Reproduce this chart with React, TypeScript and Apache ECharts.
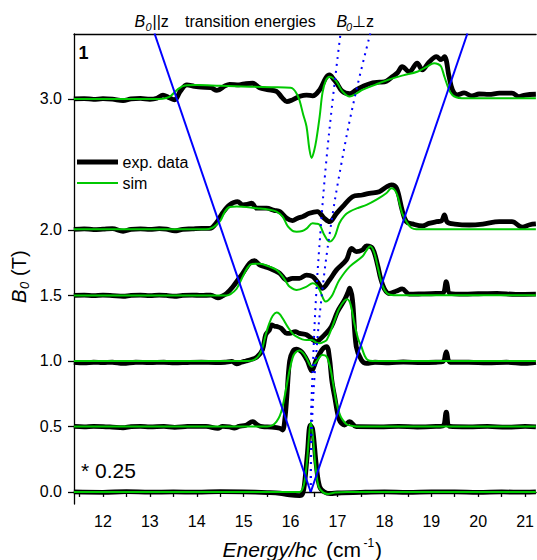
import React, { useEffect, useRef } from 'react';
import * as echarts from 'echarts';

const xTickLabels = [12, 13, 14, 15, 16, 17, 18, 19, 20, 21];
const xTickMarks = [11.5, 12, 12.5, 13, 13.5, 14, 14.5, 15, 15.5, 16, 16.5, 17, 17.5, 18, 18.5, 19, 19.5, 20, 20.5, 21];
const yTickLabels = [0, 0.5, 1, 1.5, 2, 3];

// experimental spectra (offset by field value), [energy, B0]
const exp00 = [[11.38,0.0],[12.0,-0.003],[12.5,0.002],[13.0,-0.002],[13.5,0.0],[14.0,-0.002],[14.5,0.002],[15.0,0.0],[15.5,-0.005],[15.77,-0.01],[15.98,-0.023],[16.19,-0.028],[16.26,-0.01],[16.3,0.07],[16.36,0.3],[16.42,0.51],[16.47,0.48],[16.55,0.2],[16.62,0.04],[16.72,0.0],[16.85,-0.012],[17.0,-0.008],[17.5,-0.003],[18.0,0.0],[18.5,-0.004],[19.0,0.0],[19.5,0.0],[20.0,-0.003],[20.5,0.0],[21.0,-0.002],[21.23,0.0]];
const exp05 = [[11.38,0.5],[11.6,0.497],[11.8,0.501],[12.0,0.499],[12.2,0.495],[12.43,0.49],[12.6,0.499],[12.8,0.501],[13.0,0.497],[13.3,0.5],[13.53,0.493],[13.8,0.5],[14.0,0.501],[14.2,0.5],[14.45,0.486],[14.55,0.5],[14.7,0.497],[14.8,0.488],[14.9,0.5],[15.05,0.51],[15.19,0.537],[15.3,0.51],[15.4,0.498],[15.6,0.495],[15.77,0.486],[15.83,0.473],[15.88,0.56],[15.92,0.727],[15.98,1.0],[16.05,1.075],[16.13,1.09],[16.2,1.08],[16.26,1.06],[16.36,1.0],[16.45,0.924],[16.55,1.008],[16.68,1.09],[16.77,1.11],[16.83,1.02],[16.88,0.85],[16.94,0.727],[17.04,0.55],[17.15,0.511],[17.26,0.537],[17.4,0.498],[17.9,0.497],[18.3,0.5],[18.7,0.496],[19.1,0.5],[19.25,0.505],[19.32,0.61],[19.4,0.5],[19.8,0.497],[20.2,0.5],[20.6,0.495],[21.0,0.5],[21.23,0.497]];
const exp10 = [[11.38,0.99],[11.6,0.985],[11.8,0.99],[12.0,0.987],[12.2,0.99],[12.43,0.982],[12.7,0.99],[13.0,0.987],[13.3,0.99],[13.53,0.985],[13.8,0.988],[14.1,0.99],[14.4,0.988],[14.6,0.99],[14.75,0.997],[14.85,0.978],[14.95,0.99],[15.05,1.0],[15.13,1.008],[15.28,1.03],[15.4,1.084],[15.47,1.2],[15.55,1.237],[15.6,1.275],[15.66,1.265],[15.72,1.262],[15.8,1.25],[15.92,1.211],[15.98,1.211],[16.1,1.224],[16.19,1.211],[16.34,1.2],[16.45,1.17],[16.55,1.147],[16.64,1.17],[16.72,1.198],[16.87,1.262],[17.0,1.376],[17.15,1.466],[17.22,1.52],[17.26,1.555],[17.32,1.466],[17.4,1.109],[17.51,1.008],[17.62,0.982],[17.8,0.99],[18.1,0.985],[18.4,0.992],[18.8,0.987],[19.1,0.99],[19.25,0.995],[19.32,1.07],[19.4,0.99],[19.8,0.99],[20.2,0.985],[20.6,0.99],[21.0,0.982],[21.23,0.99]];
const exp15 = [[11.38,1.5],[11.6,1.503],[11.8,1.498],[12.0,1.502],[12.2,1.499],[12.43,1.494],[12.6,1.501],[12.8,1.503],[13.0,1.499],[13.2,1.503],[13.35,1.5],[13.53,1.494],[13.7,1.501],[13.9,1.503],[14.1,1.5],[14.3,1.503],[14.45,1.481],[14.55,1.497],[14.64,1.517],[14.77,1.567],[14.88,1.62],[14.98,1.669],[15.13,1.746],[15.23,1.766],[15.34,1.733],[15.45,1.72],[15.55,1.708],[15.66,1.69],[15.77,1.669],[15.92,1.618],[16.04,1.631],[16.19,1.631],[16.34,1.656],[16.47,1.644],[16.58,1.6],[16.68,1.555],[16.83,1.618],[16.98,1.695],[17.19,1.771],[17.3,1.86],[17.4,1.834],[17.53,1.847],[17.62,1.878],[17.745,1.86],[17.85,1.74],[17.92,1.63],[18.0,1.55],[18.1,1.515],[18.26,1.534],[18.38,1.55],[18.53,1.51],[18.8,1.512],[19.1,1.515],[19.25,1.518],[19.32,1.605],[19.4,1.515],[19.7,1.51],[20.0,1.513],[20.4,1.516],[20.8,1.508],[21.23,1.51]];
const exp20 = [[11.38,2.005],[11.6,2.009],[11.8,2.003],[12.0,2.006],[12.2,2.01],[12.43,1.99],[12.6,2.005],[12.8,2.008],[13.0,2.004],[13.2,2.01],[13.35,2.006],[13.53,1.993],[13.7,2.005],[13.9,2.008],[14.1,2.012],[14.28,2.012],[14.43,2.06],[14.55,2.13],[14.7,2.191],[14.87,2.216],[14.98,2.191],[15.08,2.195],[15.17,2.204],[15.28,2.166],[15.49,2.166],[15.65,2.15],[15.77,2.14],[15.92,2.089],[16.04,2.071],[16.15,2.09],[16.26,2.102],[16.4,2.127],[16.57,2.14],[16.72,2.089],[16.83,2.063],[16.98,2.127],[17.11,2.178],[17.32,2.254],[17.53,2.267],[17.68,2.28],[17.89,2.292],[18.05,2.33],[18.15,2.344],[18.26,2.318],[18.38,2.15],[18.47,2.063],[18.6,2.046],[18.81,2.031],[18.95,2.05],[19.11,2.063],[19.22,2.07],[19.28,2.115],[19.34,2.06],[19.5,2.045],[19.81,2.038],[20.1,2.045],[20.45,2.063],[20.72,2.063],[20.94,2.021],[21.1,2.04],[21.23,2.046]];
const exp30 = [[11.38,3.0],[11.6,3.003],[11.8,2.997],[12.0,3.002],[12.2,2.998],[12.43,2.988],[12.6,3.0],[12.8,3.004],[13.0,2.998],[13.15,3.006],[13.28,3.03],[13.4,3.012],[13.53,2.994],[13.65,3.06],[13.79,3.107],[13.95,3.097],[14.1,3.09],[14.3,3.086],[14.43,3.065],[14.6,3.1],[14.7,3.112],[14.9,3.108],[15.05,3.118],[15.19,3.12],[15.34,3.086],[15.5,3.072],[15.7,3.058],[15.82,3.01],[15.92,2.98],[16.04,2.993],[16.2,3.02],[16.34,3.03],[16.47,3.024],[16.62,3.07],[16.75,3.16],[16.83,3.183],[16.92,3.15],[16.98,3.124],[17.1,3.06],[17.26,3.04],[17.4,3.07],[17.53,3.094],[17.75,3.124],[17.9,3.128],[18.04,3.135],[18.17,3.17],[18.28,3.2],[18.38,3.247],[18.53,3.208],[18.7,3.273],[18.81,3.222],[18.95,3.28],[19.11,3.323],[19.21,3.3],[19.28,3.323],[19.38,3.17],[19.45,3.07],[19.55,3.032],[19.7,3.046],[19.87,3.023],[20.02,3.038],[20.23,3.035],[20.45,3.044],[20.72,3.044],[20.87,3.018],[21.0,3.03],[21.23,3.036]];

// simulated spectra
const sim00 = [[11.38,0.0],[16.0,0.0],[16.19,0.0],[16.28,0.05],[16.34,0.2],[16.4,0.45],[16.43,0.53],[16.47,0.45],[16.53,0.2],[16.6,0.04],[16.7,-0.005],[16.8,-0.015],[16.95,-0.005],[17.2,0.0],[21.23,0.0]];
const sim05 = [[11.38,0.5],[15.5,0.5],[15.62,0.51],[15.7,0.537],[15.77,0.58],[15.83,0.651],[15.9,0.78],[15.98,0.931],[16.04,1.02],[16.09,1.059],[16.19,1.079],[16.27,1.06],[16.34,1.021],[16.45,0.956],[16.55,0.995],[16.68,1.046],[16.77,1.033],[16.83,0.97],[16.87,0.906],[16.93,0.78],[16.98,0.677],[17.05,0.59],[17.11,0.55],[17.2,0.515],[17.32,0.504],[17.5,0.5],[21.23,0.5]];
const sim10 = [[11.38,1.0],[15.1,1.0],[15.22,1.008],[15.32,1.04],[15.4,1.1],[15.47,1.2],[15.55,1.29],[15.62,1.345],[15.7,1.369],[15.76,1.36],[15.83,1.326],[15.94,1.26],[16.04,1.211],[16.13,1.185],[16.25,1.165],[16.34,1.16],[16.45,1.16],[16.55,1.14],[16.62,1.135],[16.7,1.145],[16.77,1.16],[16.89,1.262],[16.98,1.35],[17.04,1.402],[17.15,1.46],[17.21,1.471],[17.28,1.43],[17.36,1.288],[17.44,1.17],[17.51,1.109],[17.58,1.04],[17.64,1.008],[17.75,1.0],[21.23,1.0]];
const sim15 = [[11.38,1.5],[14.64,1.5],[14.72,1.51],[14.85,1.551],[14.98,1.644],[15.08,1.71],[15.17,1.74],[15.34,1.742],[15.55,1.72],[15.7,1.695],[15.83,1.644],[15.92,1.595],[15.98,1.567],[16.13,1.542],[16.34,1.567],[16.47,1.593],[16.55,1.58],[16.62,1.542],[16.75,1.453],[16.87,1.491],[16.95,1.55],[17.04,1.618],[17.26,1.72],[17.53,1.797],[17.62,1.845],[17.7,1.875],[17.78,1.83],[17.87,1.7],[17.96,1.575],[18.06,1.515],[18.2,1.502],[21.23,1.502]];
const sim20 = [[11.38,2.005],[14.2,2.005],[14.32,2.015],[14.42,2.04],[14.51,2.075],[14.6,2.14],[14.7,2.175],[14.85,2.18],[15.28,2.166],[15.55,2.155],[15.7,2.14],[15.83,2.102],[15.92,2.04],[15.98,2.013],[16.06,1.99],[16.13,1.987],[16.25,1.992],[16.34,2.01],[16.47,2.051],[16.55,2.048],[16.62,2.038],[16.72,1.962],[16.83,1.911],[16.94,1.949],[17.04,2.051],[17.15,2.11],[17.26,2.14],[17.45,2.17],[17.62,2.191],[17.85,2.235],[18.04,2.28],[18.15,2.318],[18.26,2.28],[18.38,2.127],[18.49,2.051],[18.58,2.015],[18.68,2.005],[21.23,2.005]];
const sim30 = [[11.38,3.0],[13.2,3.0],[13.35,3.008],[13.45,3.025],[13.6,3.075],[13.75,3.103],[14.0,3.106],[14.5,3.1],[15.13,3.094],[15.6,3.09],[16.0,3.085],[16.06,3.075],[16.13,3.04],[16.19,2.99],[16.27,2.88],[16.34,2.79],[16.4,2.62],[16.45,2.55],[16.5,2.6],[16.55,2.69],[16.62,2.865],[16.68,3.046],[16.75,3.14],[16.83,3.17],[16.9,3.16],[16.98,3.132],[17.11,3.056],[17.26,3.018],[17.4,3.04],[17.53,3.069],[17.8,3.108],[18.11,3.15],[18.4,3.18],[18.7,3.208],[18.9,3.245],[19.06,3.273],[19.15,3.265],[19.21,3.247],[19.28,3.17],[19.38,3.069],[19.45,3.03],[19.53,3.013],[19.65,3.006],[19.81,3.005],[21.23,3.005]];

// transition energies
const parLeft = [[16.43, 0], [13.1, 3.5]];
const parRight = [[16.43, 0], [19.77, 3.5]];
const perpA = [[16.43,0],[16.435,0.5],[16.48,1.0],[16.545,1.5],[16.64,2.0],[16.755,2.5],[16.9,3.0],[17.065,3.5]];
const perpB = [[16.43,0],[16.455,0.5],[16.535,1.0],[16.665,1.5],[16.845,2.0],[17.08,2.5],[17.36,3.0],[17.7,3.5]];

const expSets = [exp00, exp05, exp10, exp15, exp20, exp30];
const simSets = [sim00, sim05, sim10, sim15, sim20, sim30];

const FONT = '"Liberation Sans", Arial, sans-serif';
const GREEN = '#00c800';
const BLUE = '#0000ff';

function txt(text: string, x: number, y: number, size: number, extra: any = {}) {
  return {
    type: 'text',
    x,
    y,
    silent: true,
    ...extra,
    style: {
      text,
      fontSize: size,
      fontFamily: FONT,
      fill: '#000',
      textAlign: 'left',
      textVerticalAlign: 'middle',
      verticalAlign: 'middle',
      ...(extra.style || {}),
    },
  };
}

export default function App() {
  const ref = useRef<HTMLDivElement>(null);
  useEffect(() => {
    const chart = echarts.init(ref.current!, null, { renderer: 'svg' });
    const series: any[] = [];
    expSets.forEach((d) =>
      series.push({
        type: 'line', data: d, symbol: 'none', smooth: 0.35, silent: true,
        lineStyle: { color: '#000', width: 4.8 }, z: 2,
      })
    );
    simSets.forEach((d) =>
      series.push({
        type: 'line', data: d, symbol: 'none', smooth: 0.35, silent: true,
        lineStyle: { color: GREEN, width: 2 }, z: 3,
      })
    );
    [parLeft, parRight].forEach((d) =>
      series.push({
        type: 'line', data: d, symbol: 'none', silent: true,
        lineStyle: { color: BLUE, width: 2 }, z: 4,
      })
    );
    [perpA, perpB].forEach((d) =>
      series.push({
        type: 'line', data: d, symbol: 'none', smooth: 0.4, silent: true,
        lineStyle: { color: BLUE, width: 2, type: [2, 5] }, z: 4,
      })
    );
    const option: any = {
      animation: false,
      backgroundColor: '#fff',
      grid: { left: 74, top: 34, width: 463, height: 470, containLabel: false },
      xAxis: [
        {
          type: 'value', min: 11.383, max: 21.234, position: 'bottom',
          axisLine: { show: true, lineStyle: { color: '#000', width: 1.3 } },
          axisTick: { show: true, inside: false, length: 5, customValues: xTickMarks, lineStyle: { color: '#000', width: 1.3 } },
          axisLabel: { customValues: xTickLabels, fontSize: 16, color: '#000', fontFamily: FONT, margin: 9 },
          splitLine: { show: false },
        },
        {
          type: 'value', min: 11.383, max: 21.234, position: 'top',
          axisLine: { show: true, lineStyle: { color: '#000', width: 1.3 } },
          axisTick: { show: false }, axisLabel: { show: false }, splitLine: { show: false },
        },
      ],
      yAxis: {
        type: 'value', min: -0.092, max: 3.496,
        axisLine: { show: true, lineStyle: { color: '#000', width: 1.3 } },
        axisTick: { show: true, inside: false, length: 6, customValues: yTickLabels, lineStyle: { color: '#000', width: 1.3 } },
        axisLabel: {
          customValues: yTickLabels, fontSize: 16, color: '#000', fontFamily: FONT, margin: 12,
          formatter: (v: number) => v.toFixed(1),
        },
        splitLine: { show: false },
      },
      series,
      graphic: [
        // title
        txt('B', 134.5, 21, 16, { style: { fontStyle: 'italic' } }),
        txt('0', 145.5, 26.5, 11, { style: { fontStyle: 'italic' } }),
        txt('||z', 152.5, 21, 16),
        txt('transition energies', 185, 21, 16),
        txt('B', 336.5, 21, 16, { style: { fontStyle: 'italic' } }),
        txt('0', 346, 26.5, 11, { style: { fontStyle: 'italic' } }),
        txt('\u22A5z', 352, 21, 16),
        // panel label
        txt('1', 78.5, 52.5, 18, { style: { fontWeight: 'bold' } }),
        txt('* 0.25', 81, 470.5, 21),
        // legend
        { type: 'line', silent: true, shape: { x1: 77, y1: 162, x2: 118, y2: 162 }, style: { stroke: '#000', lineWidth: 4.8 } },
        txt('exp. data', 122.5, 162, 16),
        { type: 'line', silent: true, shape: { x1: 77, y1: 183, x2: 118, y2: 183 }, style: { stroke: GREEN, lineWidth: 2 } },
        txt('sim', 122.5, 183, 16),
        // x axis name
        txt('Energy/hc', 222.5, 549.5, 21, { style: { fontStyle: 'italic' } }),
        txt('(cm', 326, 549.5, 21),
        txt('-1', 363.5, 542.5, 12),
        txt(')', 375, 549.5, 21),
        // y axis name (rotated)
        txt('B', 19, 303, 20, { rotation: Math.PI / 2, style: { fontStyle: 'italic' } }),
        txt('0', 24, 289, 13, { rotation: Math.PI / 2, style: { fontStyle: 'italic' } }),
        txt('(T)', 19, 276, 20, { rotation: Math.PI / 2 }),
      ],
    };
    chart.setOption(option);
    return () => chart.dispose();
  }, []);
  return (
    <div
      ref={ref}
      style={{ position: 'fixed', left: 0, top: 0, width: 537, height: 560, background: '#fff' }}
    />
  );
}
